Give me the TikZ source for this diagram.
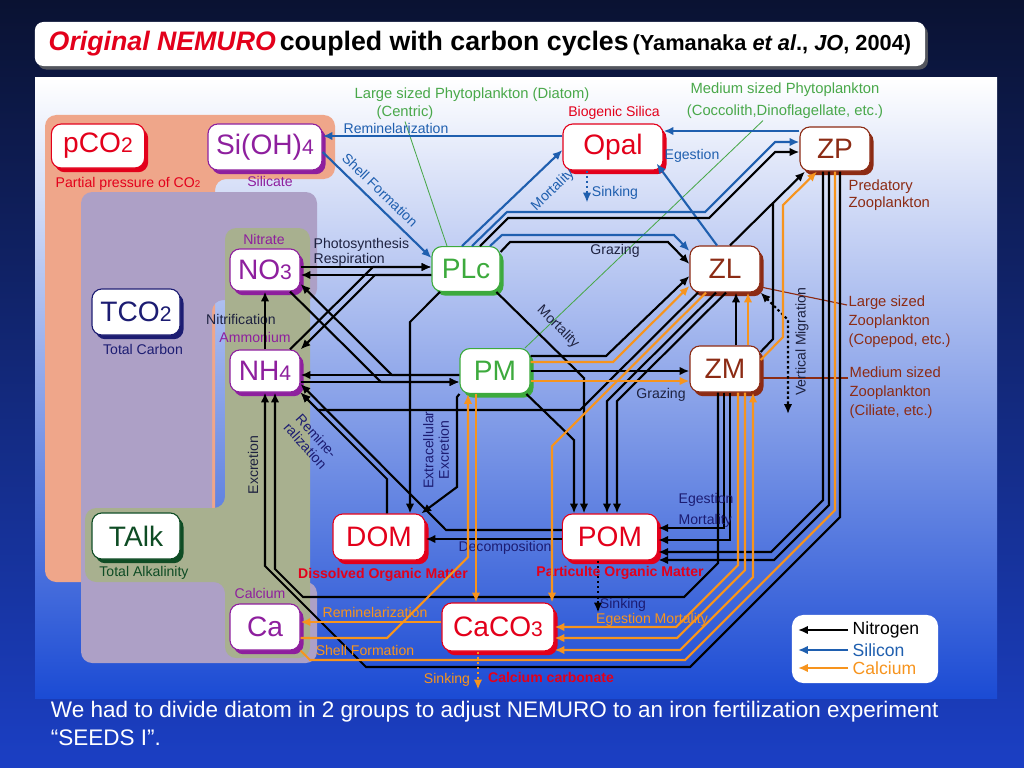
\documentclass[tikz,border=0pt]{standalone}
\usepackage{fontspec}
\setmainfont{Liberation Sans}
\usetikzlibrary{arrows.meta,shadows}
\definecolor{deep}{HTML}{0A1232}
\definecolor{slidemid}{HTML}{0E2478}
\definecolor{slide}{HTML}{1B3FC4}
\definecolor{panelmid}{HTML}{A6BFF0}
\definecolor{panel}{HTML}{1B4BD4}
\definecolor{siblue}{HTML}{1F5FAF}
\definecolor{caorange}{HTML}{F7941D}
\definecolor{crim}{HTML}{E3001B}
\definecolor{plum}{HTML}{8E1F9E}
\definecolor{navy}{HTML}{1C1C72}
\definecolor{pine}{HTML}{0E4C24}
\definecolor{leaf}{HTML}{3DAA3D}
\definecolor{rust}{HTML}{8C2B14}
\definecolor{salmon}{HTML}{EFA68A}
\definecolor{lilac}{HTML}{ADA0C6}
\definecolor{olive}{HTML}{A8B08F}
\definecolor{phyto}{HTML}{49A84A}
\definecolor{ink}{HTML}{1E2240}
\newcommand{\smallsub}[1]{{\fontsize{15}{15}\selectfont #1}}

\begin{document}
\begin{tikzpicture}[x=0.025cm,y=-0.025cm,>={Latex[length=7pt,width=6pt]},
  pool/.style={draw=#1,text=#1,fill=white,rounded corners=7pt,line width=.8pt,
    inner sep=0pt,font=\fontsize{20}{20}\selectfont,
    drop shadow={shadow xshift=2.5pt,shadow yshift=-3pt,fill=#1,opacity=1}},
  tag/.style={font=\fontsize{10}{11}\selectfont,text=#1,inner sep=1pt},
  nflow/.style={line width=1.5pt,draw=black},
  sflow/.style={line width=1.5pt,draw=siblue},
  cflow/.style={line width=1.5pt,draw=caorange},
  sink/.style={dash pattern=on 1.8pt off 1.8pt}]
  \useasboundingbox (0,0) rectangle (1024,768);
  \shade[top color=deep,middle color=slidemid,bottom color=slide] (0,0) rectangle (1024,768);

  \node[fill=white,rounded corners=6pt,minimum width=22.25cm,minimum height=1.1cm,
    drop shadow={shadow xshift=2pt,shadow yshift=-2.5pt,fill=black!60,opacity=.8}]
    (title) at (480,44)
    {{\fontsize{19}{19}\selectfont\bfseries\itshape\color{crim}Original NEMURO}
     {\fontsize{19}{19}\selectfont\bfseries coupled with carbon cycles}
     {\fontsize{15.5}{15.5}\selectfont\bfseries (Yamanaka \textit{et al}., \textit{JO}, 2004)}};

  \shade[top color=white,middle color=panelmid,bottom color=panel] (35,78) rectangle (997,698);
  \fill[salmon,rounded corners=8pt] (45,115) -- (335,115) -- (335,179) -- (215,179)
    -- (215,582) -- (45,582) -- cycle;
  \fill[lilac,rounded corners=8pt] (81,192) -- (317,192) -- (317,300) -- (212,300)
    -- (212,582) -- (317,582) -- (317,663) -- (81,663) -- cycle;
  \fill[olive,rounded corners=8pt] (225,228) -- (310,228) -- (310,658) -- (225,658)
    -- (225,582) -- (85,582) -- (85,508) -- (225,508) -- cycle;

  \node[pool=crim,minimum width=2.33cm,minimum height=1.1cm] (pco) at (98,146) {pCO\smallsub{2}};
  \node[pool=plum,minimum width=2.85cm,minimum height=1.15cm] (sioh) at (265,147) {Si(OH)\smallsub{4}};
  \node[pool=plum,minimum width=1.75cm,minimum height=1.05cm] (no) at (265,270) {NO\smallsub{3}};
  \node[pool=plum,minimum width=1.75cm,minimum height=1.05cm] (nh) at (265,371) {NH\smallsub{4}};
  \node[pool=navy,minimum width=2.2cm,minimum height=1.15cm] (tco) at (136,312) {TCO\smallsub{2}};
  \node[pool=pine,minimum width=2.2cm,minimum height=1.15cm] (talk) at (136,536) {TAlk};
  \node[pool=plum,minimum width=1.75cm,minimum height=1.15cm] (ca) at (265,627) {Ca};
  \node[pool=leaf,minimum width=1.7cm,minimum height=1.12cm] (plc) at (466,269) {PLc};
  \node[pool=leaf,minimum width=1.75cm,minimum height=1.12cm] (pm) at (495,371) {PM};
  \node[pool=crim,minimum width=2.5cm,minimum height=1.15cm] (opal) at (613,147) {Opal};
  \node[pool=rust,minimum width=1.75cm,minimum height=1.1cm] (zp) at (835,149) {ZP};
  \node[pool=rust,minimum width=1.75cm,minimum height=1.15cm] (zl) at (725,269) {ZL};
  \node[pool=rust,minimum width=1.75cm,minimum height=1.15cm] (zm) at (725,369) {ZM};
  \node[pool=crim,minimum width=2.3cm,minimum height=1.15cm] (dom) at (379,537) {DOM};
  \node[pool=crim,minimum width=2.38cm,minimum height=1.15cm] (pom) at (610,537) {POM};
  \node[pool=crim,minimum width=2.8cm,minimum height=1.2cm] (caco) at (498,627) {CaCO\smallsub{3}};

  \node[tag=crim] (lpco) at (128,184) {Partial pressure of CO{\fontsize{7}{7}\selectfont 2}};
  \node[tag=plum] (lsil) at (270,181) {Silicate};
  \node[tag=plum] (lno) at (264,239) {Nitrate};
  \node[tag=ink] (lnitr) at (241,319) {Nitrification};
  \node[tag=plum] (lnh) at (255,337) {Ammonium};
  \node[tag=navy] (ltco) at (143,349) {Total Carbon};
  \node[tag=pine] (ltalk) at (144,573) {Total Alkalinity};
  \node[tag=plum] (lca) at (260,593) {Calcium};
  \node[tag=crim] (lbio) at (614,113) {Biogenic Silica};
  \node[tag=phyto,font=\fontsize{10.5}{11}\selectfont] (llarge) at (472,95) {Large sized Phytoplankton (Diatom)};
  \node[tag=phyto,font=\fontsize{10.5}{11}\selectfont] (lcent) at (405,113) {(Centric)};
  \node[tag=phyto,font=\fontsize{10.5}{11}\selectfont] (lmed) at (785,90) {Medium sized Phytoplankton};
  \node[tag=phyto,font=\fontsize{10.5}{11}\selectfont] (lcocco) at (785,112) {(Coccolith,Dinoflagellate, etc.)};
  \node[tag=rust,font=\fontsize{10.5}{12.5}\selectfont,anchor=west,align=left] (lzp) at (847,195) {Predatory\\Zooplankton};
  \node[tag=rust,font=\fontsize{10.5}{13.5}\selectfont,anchor=west,align=left] (lzl) at (847,322) {Large sized\\Zooplankton\\(Copepod, etc.)};
  \node[tag=rust,font=\fontsize{10.5}{13.5}\selectfont,anchor=west,align=left] (lzm) at (848,393) {Medium sized\\Zooplankton\\(Ciliate, etc.)};

  \draw[rust,line width=.8pt] (zl.east |- 0,287) -- (lzl.west |- 0,305);
  \draw[rust,line width=.8pt] (zm.east |- 0,378) -- (lzm.west |- 0,378);
  \draw[phyto,line width=.6pt] (lcent.south) -- (plc.north -| 447,0);
  \draw[phyto,line width=.6pt] (lcocco.south -| 763,0) -- ([xshift=-4pt]pm.north east);

  % silicon
  \draw[sflow,->] (opal.west |- 0,136) -- (sioh.east |- 0,136);
  \draw[sflow,->] (sioh.east |- 0,152) -- (plc.west |- 0,258);
  \draw[sflow,->] (plc.north -| 462,0) -- (opal.west |- 0,150);
  \draw[sflow,->] (zp.west |- 0,131) -- (opal.east |- 0,131);
  \draw[sflow,->] (zl.north -| 717,0) -- ([xshift=-5pt,yshift=5pt]opal.south east);
  \draw[sflow,->] (plc.north -| 472,0) -- (507,212) -- (705,212) -- (775,142) -- (zp.west |- 0,142);
  \draw[sflow,->] (plc.north -| 490,0) -- (502,235) -- (674,235) -- (zl.west |- 0,251);
  \draw[sflow,sink,->] (opal.south -| 587,0) -- ++(0,32);
  \node[tag=siblue] (lremsi) at (396,128) {Reminelarization};
  \node[tag=siblue,rotate=-44] (lshell) at (380,190) {Shell Formation};
  \node[tag=siblue,rotate=44] (lmortsi) at (553,190) {Mortality};
  \node[tag=siblue] (lsinksi) at (615,193) {Sinking};
  \node[tag=siblue] (legsi) at (692,156) {Egestion};

  % nitrogen
  \draw[nflow,->] (no.east |- 0,267) -- (plc.west |- 0,267);
  \draw[nflow,->] (plc.west |- 0,275) -- (no.east |- 0,275);
  \draw[nflow,->] (nh.north -| 290,0) -- (373,267) -- (plc.west |- 0,267);
  \draw[nflow,->] (plc.west |- 0,275) -- (375,275) -- (nh.north east);
  \draw[nflow,->] (nh.east |- 0,382) -- (pm.west |- 0,382);
  \draw[nflow,->] (pm.west |- 0,375) -- (nh.east |- 0,375);
  \draw[nflow,->] (no.south -| 290,0) -- (381,382) -- (pm.west |- 0,382);
  \draw[nflow,->] (pm.west |- 0,375) -- (392,375) -- (no.east |- 0,284);
  \draw[nflow,->] (nh.north) -- (no.south);
  \draw[nflow,->] (plc.north -| 480,0) -- (508,218) -- (709,218) -- (775,152) -- (zp.west |- 0,152);
  \draw[nflow,->] (plc.east |- 0,252) -- (510,242) -- (668,242) -- (zl.west |- 0,264);
  \draw[nflow,->] (pm.east |- 0,356) -- (606,356) -- (zl.west |- 0,276);
  \draw[nflow,->] (pm.east |- 0,371) -- (zm.west |- 0,371);
  \draw[nflow,->] (zm.north -| 736,0) -- (zl.south -| 736,0);
  \draw[nflow] (zl.north -| 730,0) -- (773,203);
  \draw[nflow,->] (zm.east |- 0,352) -- (773,339) -- (773,203) -- (zp.south -| 805,0);
  \draw[nflow,sink,<->] (zl.south east) -- (788,320) -- (788,414);
  \draw[nflow,->] (zl.south -| 698,0) -- (580,410) -- (318,410) -- (nh.south east);
  \draw[nflow,->] (zl.south -| 716,0) -- (607,401) -- (pom.north -| 607,0);
  \draw[nflow,->] (zl.south -| 726,0) -- (617,401) -- (pom.north -| 617,0);
  \draw[nflow,->] ([xshift=-3pt]plc.south east) -- (584,378) -- (pom.north -| 584,0);
  \draw[nflow,->] ([xshift=-3pt]pm.south east) -- (574,440) -- (pom.north -| 574,0);
  \draw[nflow,->] (plc.south -| 440,0) -- (410,322) -- (dom.north -| 410,0);
  \draw[nflow,->] (pm.south west) -- (457,397) -- (457,487) -- ([xshift=-3pt]dom.north east);
  \draw[nflow,->] (dom.north -| 387,0) -- (387,479) -- (nh.south east);
  \draw[nflow,->] (pom.west |- 0,530) -- (446,530) -- (nh.east |- 0,384);
  \draw[nflow,->] (pom.west |- 0,539) -- (dom.east |- 0,539);
  \draw[nflow,->] (zm.south -| 724,0) -- (724,528) -- (pom.east |- 0,528);
  \draw[nflow,->] (zm.south -| 730,0) -- (730,540) -- (pom.east |- 0,540);
  \draw[nflow,->] (zp.south -| 823,0) -- (823,500) -- (771,552) -- (pom.east |- 0,552);
  \draw[nflow,->] (zp.south -| 829,0) -- (829,505) -- (774,560) -- (pom.east |- 0,560);
  \draw[nflow,->] (zm.south -| 718,0) -- (718,563) -- (684,597) -- (303,597) -- (275,569) -- (nh.south -| 275,0);
  \draw[nflow,->] (zp.south -| 840,0) -- (840,517) -- (690,667) -- (366,667) -- (265,566) -- (nh.south -| 265,0);
  \draw[nflow,sink,->] (pom.south -| 598,0) -- ++(0,52);
  \node[tag=ink,align=left,anchor=west,font=\fontsize{10}{10.5}\selectfont] (lphoto) at (312,252) {Photosynthesis\\Respiration};
  \node[tag=ink] (lgraz1) at (615,251) {Grazing};
  \node[tag=ink,rotate=-45] (lmortn) at (558,327) {Mortality};
  \node[tag=ink] (lgraz2) at (661,395) {Grazing};
  \node[tag=ink,rotate=90] (lvert) at (802,342) {Vertical Migration};
  \node[tag=ink,rotate=90] (lexcr) at (253,465) {Excretion};
  \node[tag=navy,rotate=-48,align=center,font=\fontsize{10}{10.5}\selectfont] (lremin) at (311,441) {Remine-\\ralization};
  \node[tag=navy,rotate=90,align=center,font=\fontsize{10}{11}\selectfont] (lextra) at (436,450) {Extracellular\\Excretion};
  \node[tag=navy] (ldecomp) at (505,548) {Decomposition};
  \node[tag=navy,anchor=west] (legest) at (677,500) {Egestion};
  \node[tag=navy,anchor=west] (lmortz) at (677,521) {Mortality};
  \node[tag=crim,font=\fontsize{10}{11}\selectfont\bfseries] (ldom) at (383,575) {Dissolved Organic Matter};
  \node[tag=crim,font=\fontsize{10}{11}\selectfont\bfseries] (lpom) at (620,573) {Particulte Organic Matter};
  \node[tag=navy] (lsinkp) at (623,605) {Sinking};

  % calcium
  \draw[cflow,->] (pm.east |- 0,362) -- (613,362) -- (zl.west |- 0,286);
  \draw[cflow,->] (pm.east |- 0,381) -- (zm.west |- 0,381);
  \draw[cflow,->] (zm.north -| 748,0) -- (zl.south -| 748,0);
  \draw[cflow,->] (zm.east |- 0,360) -- (783,337) -- (783,205) -- (zp.south -| 817,0);
  \draw[cflow,->] (zl.south -| 706,0) -- (552,446) -- (caco.north -| 552,0);
  \draw[cflow,->] (zm.south -| 738,0) -- (738,565) -- (676,627) -- (caco.east |- 0,627);
  \draw[cflow,->] (zm.south -| 745,0) -- (745,570) -- (677,638) -- (caco.east |- 0,638);
  \draw[cflow,<->] (caco.east |- 0,650) -- (680,650) -- (753,577) -- (zm.south -| 753,0);
  \draw[cflow] (zp.south -| 835,0) -- (835,510) -- (685,660) -- (310,660) -- (ca.south east);
  \draw[cflow,->] (caco.west |- 0,622) -- (ca.east |- 0,622);
  \draw[cflow,->] (ca.east |- 0,638) -- (387,638) -- (468,557) -- (pm.south -| 468,0);
  \draw[cflow,->] (pm.south -| 476,0) -- (caco.north -| 476,0);
  \draw[cflow,sink,->] (caco.south -| 478,0) -- ++(0,38);
  \node[tag=caorange] (legmort) at (652,620) {Egestion Mortality};
  \node[tag=caorange] (lremca) at (375,612) {Reminelarization};
  \node[tag=caorange] (lshellca) at (365,650) {Shell Formation};
  \node[tag=caorange] (lsinkc) at (447,680) {Sinking};
  \node[tag=crim,font=\fontsize{10}{11}\selectfont\bfseries] (lcaco) at (551,677) {Calcium carbonate};

  \node[fill=white,rounded corners=8pt,minimum width=3.65cm,minimum height=1.7cm] (legend) at (865,649) {};
  \foreach \y/\c/\t in {630/black/Nitrogen,650/siblue/Silicon,668/caorange/Calcium}{
    \draw[line width=1.5pt,\c,->] (848,\y) -- (798,\y);
    \node[anchor=west,text=\c,font=\fontsize{12.5}{13}\selectfont,inner sep=1pt] (lg\t) at (851,\y) {\t};
  }

  \node[anchor=west,text=white,font=\fontsize{16}{16}\selectfont] (cap1) at (46,712)
    {We had to divide diatom in 2 groups to adjust NEMURO to an iron fertilization experiment};
  \node[anchor=west,text=white,font=\fontsize{16}{16}\selectfont] (cap2) at (46,738) {“SEEDS I”.};
\end{tikzpicture}
\end{document}
